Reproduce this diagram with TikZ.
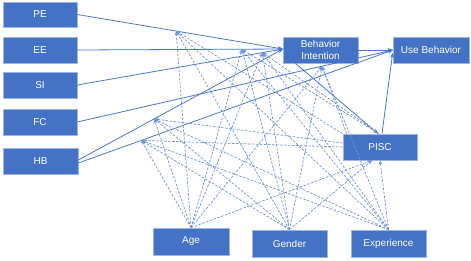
\documentclass[tikz,border=0pt]{standalone}
\usepackage{fontspec}
\setmainfont{Liberation Sans}
\usetikzlibrary{arrows.meta}
\definecolor{boxblue}{HTML}{4472C4}
\definecolor{boxedge}{HTML}{9DB5E3}
\definecolor{linblue}{HTML}{4A78CC}
\definecolor{dashblue}{HTML}{6F94DA}
\begin{document}
\begin{tikzpicture}[x=1pt,y=-1pt,
  box/.style={draw=boxedge, line width=0.7pt, fill=boxblue, text=white,
    minimum width=74pt, minimum height=26pt, inner sep=1pt,
    font=\fontsize{10}{12.5}\selectfont, align=center},
  solidarrow/.style={draw=linblue, line width=0.8pt, -{Stealth[length=5pt,width=4pt]}},
  modarrow/.style={draw=dashblue, line width=0.7pt, dash pattern=on 2.5pt off 1.5pt,
    -{Stealth[length=4.5pt,width=3.5pt]}}]
\useasboundingbox (0,0) rectangle (471,260);

% boxes
\node[box, minimum height=25pt] (PE) at (40,14.5) {PE};
\node[box] (EE) at (40,50) {EE};
\node[box] (SI) at (40,85) {SI};
\node[box] (FC) at (40,122) {FC};
\node[box, minimum width=75pt] (HB) at (40.5,161) {HB};
\node[box, minimum width=75pt] (BI) at (320.5,50) {Behavior\\Intention};
\node[box, minimum width=76pt] (UB) at (431,50) {Use Behavior};
\node[box] (PISC) at (380,147) {PISC};
\node[box, minimum width=76pt, minimum height=27pt] (Age) at (191,241.5) {Age};
\node[box, minimum width=75pt, minimum height=27pt] (Gender) at (289.5,243.5) {Gender};
\node[box, minimum width=75pt, minimum height=27pt] (Exp) at (388.5,243.5) {Experience};

% entry points
\coordinate (BIin) at (283,49);
\coordinate (UBin) at (393,50);

% solid paths
\draw[solidarrow] (PE.east) -- coordinate[pos=0.48] (T1) (BIin);
\draw[solidarrow] (EE.east) -- coordinate[pos=0.80] (T2) (BIin);
\draw[solidarrow] (SI.east) -- coordinate[pos=0.90] (T3) (BIin);
\draw[solidarrow] (FC.east) -- coordinate[pos=0.775] (T4) (UBin);
\draw[solidarrow] ([yshift=1pt]HB.east) -- coordinate[pos=0.37] (T5) (BIin);
\draw[solidarrow] ([yshift=-2pt]HB.east) -- coordinate[pos=0.2] (T6) (UBin);
\draw[solidarrow] (BI.east) -- (UB.west);
\draw[solidarrow] ([xshift=-25pt]BI.south) -- ([xshift=-2pt]PISC.north);
\draw[solidarrow] ([xshift=2pt]PISC.north) -- ([yshift=-3pt]UB.west);

% moderator anchors
\coordinate (Atop) at (Age.north);
\coordinate (Gtop) at (Gender.north);
\coordinate (Etop) at (Exp.north);
\coordinate (Pnw) at (PISC.north west);
\coordinate (Pn) at ([xshift=-1pt]PISC.north);
\coordinate (Pn2) at ([xshift=4pt]PISC.north west);
\coordinate (Pw1) at ([yshift=4pt]PISC.west);
\coordinate (Pw2) at ([yshift=0pt]PISC.west);

% dashed moderation arrows
\foreach \t in {T1,T2,T3,T4,T5,T6}{
  \draw[modarrow] (Atop) -- (\t);
  \draw[modarrow] (Gtop) -- (\t);
  \draw[modarrow] (Etop) -- (\t);
}
\draw[modarrow] (Pnw) -- (T1);
\draw[modarrow] (Pn) -- (T2);
\draw[modarrow] (Pn) -- (T3);
\draw[modarrow] (Pn2) -- (T4);
\draw[modarrow] (Pw1) -- (T5);
\draw[modarrow] (Pw2) -- (T6);
\draw[modarrow] (Atop) -- ([xshift=-8pt]PISC.south);
\draw[modarrow] (Gtop) -- ([xshift=-8pt]PISC.south);
\draw[modarrow] (Etop) -- ([xshift=0pt]PISC.south);
\end{tikzpicture}
\end{document}
